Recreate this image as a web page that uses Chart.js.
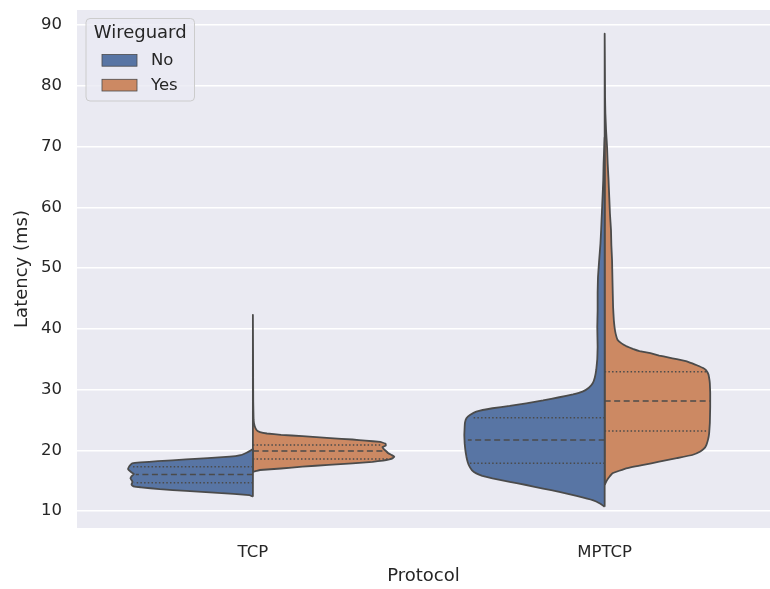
<!DOCTYPE html>
<html>
<head>
<meta charset="utf-8">
<script src="https://cdn.jsdelivr.net/npm/chart.js@4.4.1/dist/chart.umd.min.js"></script>
<style>
  body { margin: 0; background: #ffffff; }
  canvas { display: block; }
</style>
</head>
<body>
<canvas id="violinGraph" width="770" height="589"></canvas>
<script>
'use strict';

// categorias y leyenda
var protocolos = ['TCP', 'MPTCP'];
var wireguard = ['No', 'Yes'];
var yTicks = [10, 20, 30, 40, 50, 60, 70, 80, 90];

// contorno de cada mitad: latencia (ms) y ancho de la densidad (unidades de categoria)
var tcpNoLat = [12.35, 12.63, 13.0, 13.3, 13.6, 13.9, 14.0, 14.2, 14.4, 14.77, 15.1, 15.35, 15.7, 16.09, 16.5, 16.91, 17.3, 17.6, 17.85, 18.0, 18.2, 18.5, 18.94, 19.2, 19.6, 19.9, 20.2];
var tcpNoAncho = [0, 0.01, 0.1, 0.19, 0.265, 0.318, 0.336, 0.343, 0.345, 0.342, 0.345, 0.348, 0.345, 0.338, 0.348, 0.355, 0.352, 0.348, 0.343, 0.32, 0.27, 0.19, 0.066, 0.035, 0.018, 0.008, 0];

var tcpYesLat = [16.45, 16.6, 16.75, 17.0, 17.3, 17.6, 17.85, 18.1, 18.3, 18.5, 18.7, 18.93, 19.2, 19.5, 19.9, 20.2, 20.49, 20.8, 21.1, 21.37, 21.6, 21.77, 22.0, 22.32, 22.55, 22.76, 23.0, 23.3, 24.0, 25.0, 28.0, 32.0, 36.0, 42.3];
var tcpYesAncho = [0, 0.01, 0.02, 0.08, 0.141, 0.215, 0.283, 0.34, 0.37, 0.388, 0.398, 0.402, 0.395, 0.385, 0.378, 0.372, 0.368, 0.378, 0.377, 0.362, 0.32, 0.283, 0.22, 0.141, 0.08, 0.04, 0.02, 0.011, 0.005, 0.002, 0.001, 0.0007, 0.0005, 0];

var mptcpNoLat = [10.7, 11.2, 11.8, 12.5, 13.16, 13.7, 14.28, 14.8, 15.38, 15.8, 16.2, 16.7, 17.3, 18.0, 18.94, 20.0, 21.13, 22.5, 23.88, 24.6, 25.27, 25.8, 26.36, 26.92, 27.3, 27.74, 28.2, 28.73, 29.2, 29.65, 30.3, 31.03, 32.0, 33.22, 35.0, 37.0, 40.3, 43.0, 46.0, 48.5, 51.0, 54.0, 56.3, 59.0, 61.7, 64.5, 67.3, 69.5, 71.5];
var mptcpNoAncho = [0, 0.012, 0.034, 0.08, 0.129, 0.175, 0.223, 0.27, 0.319, 0.348, 0.365, 0.377, 0.384, 0.389, 0.393, 0.396, 0.398, 0.399, 0.398, 0.397, 0.393, 0.383, 0.365, 0.319, 0.27, 0.223, 0.175, 0.129, 0.09, 0.063, 0.045, 0.034, 0.028, 0.024, 0.021, 0.02, 0.021, 0.02, 0.02, 0.019, 0.016, 0.012, 0.01, 0.008, 0.006, 0.004, 0.003, 0.0015, 0];

var mptcpYesLat = [14.3, 15.0, 15.6, 16.2, 17.03, 17.6, 18.12, 18.7, 19.22, 19.8, 20.3, 20.86, 21.8, 22.79, 24.5, 27.17, 29.5, 31.02, 31.56, 32.5, 33.21, 33.54, 34.0, 34.31, 34.69, 35.0, 35.3, 35.6, 36.0, 36.34, 36.7, 37.16, 37.6, 38.15, 39.25, 40.3, 41.44, 43.5, 45.84, 48.5, 51.3, 53.8, 56.26, 59.0, 61.74, 64.5, 67.28, 69.97, 72.7, 75.5, 78.0, 82.0, 85.0, 88.6];
var mptcpYesAncho = [0, 0.006, 0.013, 0.022, 0.061, 0.11, 0.155, 0.205, 0.249, 0.272, 0.283, 0.289, 0.294, 0.297, 0.299, 0.3, 0.3, 0.299, 0.298, 0.295, 0.288, 0.28, 0.262, 0.249, 0.231, 0.205, 0.18, 0.155, 0.13, 0.099, 0.08, 0.061, 0.048, 0.037, 0.031, 0.028, 0.026, 0.024, 0.023, 0.022, 0.021, 0.019, 0.018, 0.015, 0.013, 0.011, 0.0085, 0.0068, 0.004, 0.002, 0.0012, 0.0008, 0.0005, 0];

// cuartiles (Q1, mediana, Q3) y su ancho
var tcpNoCuart = [14.65, 16.0, 17.3];
var tcpNoCuartAncho = [0.337, 0.333, 0.343];
var tcpYesCuart = [18.56, 19.88, 20.86];
var tcpYesCuartAncho = [0.39, 0.379, 0.365];
var mptcpNoCuart = [17.85, 21.69, 25.36];
var mptcpNoCuartAncho = [0.384, 0.389, 0.375];
var mptcpYesCuart = [23.17, 28.1, 32.93];
var mptcpYesCuartAncho = [0.293, 0.299, 0.288];

var colores = ['#5875a4', '#cc8963'];
var borde = '#4b4b4b';
var texto = '#262626';

var mitades = [
  {cat: 0, grupo: 0, lat: tcpNoLat, ancho: tcpNoAncho, q: tcpNoCuart, qa: tcpNoCuartAncho},
  {cat: 0, grupo: 1, lat: tcpYesLat, ancho: tcpYesAncho, q: tcpYesCuart, qa: tcpYesCuartAncho},
  {cat: 1, grupo: 0, lat: mptcpNoLat, ancho: mptcpNoAncho, q: mptcpNoCuart, qa: mptcpNoCuartAncho},
  {cat: 1, grupo: 1, lat: mptcpYesLat, ancho: mptcpYesAncho, q: mptcpYesCuart, qa: mptcpYesCuartAncho}
];

var datasets = [];
for (var i = 0; i < mitades.length; i++) {
  var m = mitades[i];
  var lado = m.grupo === 0 ? -1 : 1;
  var pts = [];
  for (var j = 0; j < m.lat.length; j++) {
    pts.push({x: m.cat + lado * m.ancho[j], y: m.lat[j]});
  }
  pts.push({x: m.cat, y: m.lat[0]});
  datasets.push({
    label: protocolos[m.cat] + ' ' + wireguard[m.grupo],
    data: pts,
    backgroundColor: colores[m.grupo],
    borderColor: borde,
    borderWidth: 1.8,
    borderJoinStyle: 'round',
    tension: 0.05,
    fill: 'shape',
    pointRadius: 0,
    order: 2
  });
  // lineas de cuartiles
  for (var k = 0; k < m.q.length; k++) {
    datasets.push({
      label: 'q',
      data: [{x: m.cat, y: m.q[k]}, {x: m.cat + lado * m.qa[k], y: m.q[k]}],
      borderColor: borde,
      borderWidth: 1.5,
      borderDash: k === 1 ? [6, 3.5] : [1.5, 2.2],
      fill: false,
      pointRadius: 0,
      order: 1
    });
  }
}

var fondo = {
  id: 'fondo',
  beforeDraw: function (chart) {
    var c = chart.ctx;
    var a = chart.chartArea;
    c.save();
    c.fillStyle = '#ffffff';
    c.fillRect(0, 0, chart.width, chart.height);
    c.fillStyle = '#eaeaf2';
    c.fillRect(a.left, a.top, a.right - a.left, a.bottom - a.top);
    c.restore();
  }
};

var leyenda = {
  id: 'leyenda',
  afterDraw: function (chart) {
    var c = chart.ctx;
    var a = chart.chartArea;
    var x0 = a.left + 9, y0 = a.top + 8.5;
    c.save();
    c.beginPath();
    c.roundRect(x0, y0, 108.5, 82.5, 4);
    c.fillStyle = 'rgba(234,234,242,0.8)';
    c.fill();
    c.strokeStyle = '#cccccc';
    c.lineWidth = 1;
    c.stroke();
    c.fillStyle = texto;
    c.textBaseline = 'middle';
    c.textAlign = 'center';
    c.font = '18px "DejaVu Sans"';
    c.fillText('Wireguard', x0 + 54.2, y0 + 15);
    c.textAlign = 'left';
    c.font = '16.5px "DejaVu Sans"';
    for (var i = 0; i < wireguard.length; i++) {
      var yy = y0 + 36 + i * 24.8;
      c.fillStyle = colores[i];
      c.fillRect(x0 + 16, yy, 35, 11.7);
      c.strokeStyle = borde;
      c.lineWidth = 0.8;
      c.strokeRect(x0 + 16, yy, 35, 11.7);
      c.fillStyle = texto;
      c.fillText(wireguard[i], x0 + 65, yy + 6.2);
    }
    c.restore();
  }
};

Chart.defaults.font.family = '"DejaVu Sans", sans-serif';

var ctx = document.getElementById('violinGraph').getContext('2d');
var myChart = new Chart(ctx, {
  type: 'line',
  data: {
    datasets: datasets
  },
  options: {
    responsive: false,
    animation: false,
    events: [],
    layout: {padding: {top: 10, right: 0, bottom: 0, left: 0}},
    plugins: {
      legend: {display: false},
      tooltip: {enabled: false}
    },
    elements: {
      point: {radius: 0}
    },
    scales: {
      x: {
        type: 'linear',
        min: -0.5,
        max: 1.47,
        grid: {display: false},
        border: {display: false},
        afterFit: function (s) {
          s.height = 61;
          s.paddingLeft = 0;
          s.paddingRight = 0;
        },
        afterBuildTicks: function (s) {
          s.ticks = protocolos.map(function (p, i) { return {value: i}; });
        },
        ticks: {
          padding: 7,
          color: texto,
          font: {size: 16.5},
          callback: function (v) { return protocolos[v]; }
        },
        title: {display: true, text: 'Protocol', color: texto, font: {size: 18}, padding: {top: 0, bottom: 2}}
      },
      y: {
        type: 'linear',
        min: 7.2,
        max: 92.5,
        grid: {color: '#ffffff', lineWidth: 1.5, drawTicks: false},
        border: {display: false},
        afterFit: function (s) {
          s.width = 77;
          s.paddingTop = 0;
          s.paddingBottom = 0;
        },
        afterBuildTicks: function (s) {
          s.ticks = yTicks.map(function (v) { return {value: v}; });
        },
        ticks: {padding: 15, color: texto, font: {size: 16.5}},
        title: {display: true, text: 'Latency (ms)', color: texto, font: {size: 18}, padding: {top: 12, bottom: 0}}
      }
    }
  },
  plugins: [fondo, leyenda]
});
</script>
</body>
</html>
